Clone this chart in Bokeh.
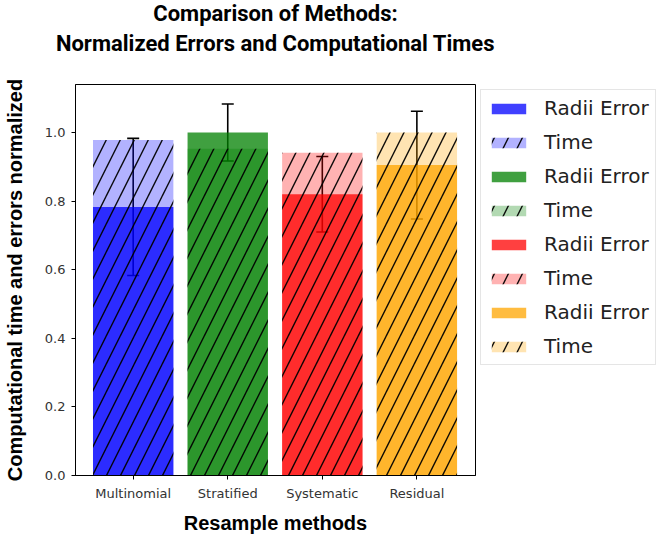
from bokeh.plotting import figure
from bokeh.models import (ColumnDataSource, Legend, LegendItem, Whisker, TeeHead,
                          Range1d, FixedTicker, Title, NumeralTickFormatter)
from bokeh.embed import file_html
from bokeh.resources import INLINE

methods = ["Multinomial", "Stratified", "Systematic", "Residual"]
radii_error = [0.783, 1.0, 0.820, 0.905]
radii_error_std = [0.200, 0.083, 0.110, 0.157]
time_values = [0.978, 0.953, 0.941, 1.0]
colors = ["blue", "green", "red", "orange"]
y_ticks = [0.0, 0.2, 0.4, 0.6, 0.8, 1.0]

xs = list(range(len(methods)))

p = figure(frame_width=400, frame_height=391, output_backend="svg", toolbar_location=None,
           x_range=Range1d(-0.61, 3.62), y_range=Range1d(0, 1.14),
           min_border_left=75, min_border_bottom=62, min_border_right=0, min_border_top=0)

# spacer between title block and plot frame
p.add_layout(Title(text=" ", align="center", text_font_size="1px", standoff=22), "above")
p.add_layout(Title(text="Normalized Errors and Computational Times", align="center",
                   text_font="Roboto", text_font_size="22px", text_font_style="bold",
                   text_color="black", standoff=8), "above")
p.add_layout(Title(text="Comparison of Methods:", align="center",
                   text_font="Roboto", text_font_size="22px", text_font_style="bold",
                   text_color="black", standoff=-3), "above")

items = []
for i, m in enumerate(methods):
    src = ColumnDataSource(dict(x=[xs[i]], r=[radii_error[i]], t=[time_values[i]]))
    r1 = p.vbar(x="x", top="r", width=0.85, source=src, fill_color=colors[i],
                fill_alpha=0.75, line_color=None)
    r2 = p.vbar(x="x", top="t", width=0.85, source=src, fill_color=colors[i],
                fill_alpha=0.3, line_color=None, hatch_pattern="/",
                hatch_color="black", hatch_alpha=0.95, hatch_scale=28, hatch_weight=1.4)
    items.append(LegendItem(label="Radii Error", renderers=[r1]))
    items.append(LegendItem(label="Time", renderers=[r2]))

wsrc = ColumnDataSource(dict(
    x=xs,
    upper=[r + s for r, s in zip(radii_error, radii_error_std)],
    lower=[r - s for r, s in zip(radii_error, radii_error_std)],
))
w = Whisker(base="x", upper="upper", lower="lower", source=wsrc,
            line_color="black", line_width=1.6,
            upper_head=TeeHead(size=12, line_color="black", line_width=1.6),
            lower_head=TeeHead(size=12, line_color="black", line_width=1.6))
p.add_layout(w)

legend = Legend(items=items, location="top_left",
                label_text_font="DejaVu Sans", label_text_font_size="20px",
                label_text_color="#222222",
                glyph_width=43, glyph_height=13, label_height=24, spacing=10,
                label_standoff=14, padding=6, margin=5,
                border_line_color="#cccccc", border_line_width=1,
                background_fill_color="white")
p.add_layout(legend, "right")

p.xgrid.visible = False
p.ygrid.visible = False
p.outline_line_color = "black"
p.outline_line_alpha = 1
p.outline_line_width = 1

p.xaxis.ticker = FixedTicker(ticks=xs)
p.xaxis.major_label_overrides = {i: m for i, m in enumerate(methods)}
p.yaxis.ticker = FixedTicker(ticks=y_ticks)
p.yaxis.formatter = NumeralTickFormatter(format="0.0")

for ax in (p.xaxis[0], p.yaxis[0]):
    ax.axis_line_color = "black"
    ax.major_tick_line_color = "black"
    ax.major_tick_out = 4
    ax.major_tick_in = 0
    ax.minor_tick_line_color = None
    ax.major_label_text_font = "DejaVu Sans"
    ax.major_label_text_font_size = "13px"
    ax.major_label_text_color = "#333333"
    ax.axis_label_text_font = "Liberation Sans"
    ax.axis_label_text_font_style = "bold"
    ax.axis_label_text_font_size = "20px"
    ax.axis_label_text_color = "black"

p.xaxis.axis_label = "Resample methods"
p.yaxis.axis_label = "Computational time and errors normalized"
p.xaxis.axis_label_standoff = 8
p.yaxis.axis_label_standoff = 16
p.xaxis.major_label_standoff = 6
p.yaxis.major_label_standoff = 6

open("out.html", "w").write(file_html(p, INLINE))
